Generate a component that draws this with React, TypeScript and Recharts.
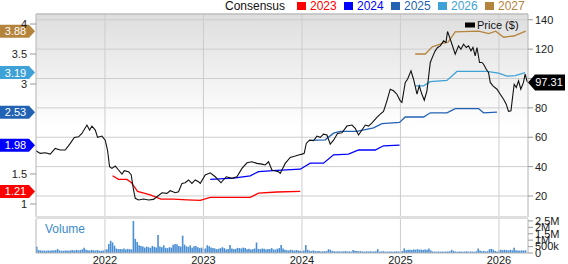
import React from 'react';
import { ComposedChart, Line, Bar, XAxis, YAxis, CartesianGrid, ReferenceLine, ReferenceDot } from 'recharts';

const T0 = 2021.3;
const T1 = 2026.295;
const yearTicks = [2022, 2023, 2024, 2025, 2026];
const epsTicks = [1, 1.5, 3, 3.5, 4];
const priceTicks = [20, 40, 60, 80, 100, 120, 140];
const volTicks = [0, 500, 1000, 1500, 2000, 2500];
const volTickLabels: Record<number, string> = { 0: '0', 500: '500k', 1000: '1M', 1500: '1.5M', 2000: '2M', 2500: '2.5M' };

const pricePoints: [number, number][] = [
  [2021.300, 50.8], [2021.343, 49.0], [2021.394, 49.4], [2021.445, 48.5], [2021.495, 52.4], [2021.546, 51.3], [2021.597, 51.3],
  [2021.648, 55.8], [2021.689, 59.9], [2021.732, 60.3], [2021.766, 62.6], [2021.817, 68.3], [2021.844, 64.9], [2021.868, 67.6],
  [2021.902, 64.9], [2021.925, 59.9], [2021.970, 60.8], [2022.003, 58.0], [2022.026, 51.3], [2022.047, 39.9], [2022.071, 38.8],
  [2022.105, 40.4], [2022.138, 37.7], [2022.173, 34.9], [2022.196, 37.2], [2022.240, 36.5], [2022.267, 34.3], [2022.290, 24.1],
  [2022.308, 18.4], [2022.341, 17.3], [2022.392, 17.9], [2022.443, 17.3], [2022.493, 17.7], [2022.528, 19.5], [2022.579, 22.2],
  [2022.629, 21.8], [2022.663, 23.6], [2022.714, 22.2], [2022.747, 22.9], [2022.782, 28.6], [2022.815, 29.0], [2022.849, 30.9],
  [2022.883, 28.6], [2022.917, 30.9], [2022.950, 29.7], [2022.968, 28.6], [2023.018, 34.3], [2023.069, 35.8], [2023.120, 33.1],
  [2023.178, 29.0], [2023.231, 33.1], [2023.289, 32.0], [2023.340, 33.1], [2023.391, 38.8], [2023.442, 42.6], [2023.492, 43.3],
  [2023.543, 42.2], [2023.594, 41.7], [2023.627, 41.1], [2023.661, 43.3], [2023.695, 37.7], [2023.762, 36.5], [2023.780, 35.4],
  [2023.830, 42.2], [2023.881, 46.3], [2023.932, 47.2], [2023.965, 47.9], [2024.000, 48.5], [2024.023, 49.0], [2024.044, 55.8],
  [2024.077, 58.0], [2024.118, 57.6], [2024.152, 60.8], [2024.186, 59.9], [2024.219, 62.1], [2024.254, 61.5], [2024.287, 55.3],
  [2024.321, 58.0], [2024.361, 62.6], [2024.406, 63.0], [2024.457, 67.6], [2024.508, 68.3], [2024.541, 66.0], [2024.575, 61.5],
  [2024.609, 64.9], [2024.643, 68.3], [2024.676, 67.6], [2024.711, 69.8], [2024.761, 73.5], [2024.795, 75.7], [2024.828, 77.6],
  [2024.863, 84.8], [2024.896, 92.7], [2024.930, 91.6], [2024.964, 89.3], [2024.998, 84.8], [2025.015, 83.7], [2025.049, 97.3],
  [2025.072, 99.5], [2025.107, 105.2], [2025.133, 99.5], [2025.168, 89.3], [2025.191, 95.0], [2025.218, 89.3], [2025.242, 85.2],
  [2025.269, 91.6], [2025.303, 110.9], [2025.330, 115.4], [2025.353, 118.8], [2025.377, 121.1], [2025.404, 122.2], [2025.438, 125.6],
  [2025.462, 124.5], [2025.478, 132.0], [2025.499, 128.2], [2025.523, 123.3], [2025.556, 116.5], [2025.590, 122.2], [2025.614, 119.9],
  [2025.641, 123.3], [2025.668, 121.1], [2025.691, 122.2], [2025.716, 118.8], [2025.736, 121.1], [2025.759, 115.4], [2025.777, 121.1],
  [2025.803, 110.9], [2025.827, 110.9], [2025.844, 109.7], [2025.871, 106.3], [2025.894, 104.1], [2025.912, 97.3], [2025.939, 95.0],
  [2025.980, 92.7], [2026.013, 89.3], [2026.047, 85.9], [2026.074, 82.5], [2026.097, 77.6], [2026.122, 78.0], [2026.142, 89.3],
  [2026.155, 96.1], [2026.176, 93.9], [2026.199, 98.4], [2026.222, 92.7], [2026.249, 97.3], [2026.266, 102.9], [2026.284, 98.4],
  [2026.294, 97.31],
];
const lastPrice = 97.31;

const eps2023: [number, number][] = [
  [2022.077, 1.47], [2022.138, 1.41], [2022.223, 1.41], [2022.267, 1.36], [2022.331, 1.21], [2022.460, 1.15], [2022.569, 1.08],
  [2022.696, 1.08], [2022.832, 1.07], [2022.968, 1.06], [2023.069, 1.11], [2023.272, 1.11], [2023.475, 1.11], [2023.559, 1.18],
  [2023.746, 1.20], [2023.983, 1.21],
];
const eps2024: [number, number][] = [
  [2023.069, 1.41], [2023.306, 1.43], [2023.475, 1.47], [2023.559, 1.54], [2023.746, 1.56], [2023.983, 1.58], [2024.084, 1.68],
  [2024.219, 1.68], [2024.321, 1.82], [2024.473, 1.83], [2024.575, 1.90], [2024.744, 1.90], [2024.828, 1.97], [2024.991, 1.98],
];
const eps2025: [number, number][] = [
  [2024.084, 2.06], [2024.236, 2.07], [2024.321, 2.18], [2024.389, 2.21], [2024.558, 2.21], [2024.727, 2.27], [2024.812, 2.34],
  [2024.991, 2.36], [2025.049, 2.45], [2025.235, 2.45], [2025.303, 2.52], [2025.472, 2.52], [2025.556, 2.59], [2025.793, 2.59],
  [2025.844, 2.52], [2025.980, 2.53],
];
const eps2026: [number, number][] = [
  [2025.150, 2.97], [2025.235, 2.97], [2025.303, 3.04], [2025.472, 3.06], [2025.574, 3.21], [2025.878, 3.21], [2025.996, 3.18],
  [2026.081, 3.13], [2026.166, 3.14], [2026.266, 3.19],
];
const eps2027: [number, number][] = [
  [2025.150, 3.50], [2025.252, 3.50], [2025.323, 3.62], [2025.435, 3.68], [2025.485, 3.70], [2025.556, 3.87], [2025.794, 3.88],
  [2025.896, 3.84], [2025.967, 3.88], [2026.048, 3.78], [2026.150, 3.80], [2026.272, 3.88],
];

const consensusYears = ['2023', '2024', '2025', '2026', '2027'];
const consensusLatest = [1.21, 1.98, 2.53, 3.19, 3.88];
const consensusColors: Record<string, string> = {
  '2023': '#ff0000', '2024': '#0000ff', '2025': '#2262b4', '2026': '#3ea2d8', '2027': '#b5843c',
};
const consensusSeries: Record<string, [number, number][]> = {
  '2023': eps2023, '2024': eps2024, '2025': eps2025, '2026': eps2026, '2027': eps2027,
};

// weekly volume, thousands of shares
const volStart = 2021.3;
const vol2021 = [480, 220, 200, 180, 190, 170, 200, 180, 210, 190, 230, 300, 200, 180, 170, 190, 200, 180, 210, 220, 190, 250, 200, 230, 280, 400, 260, 220, 200, 240, 210, 190, 230, 180, 170, 200];
const vol2022 = [250, 300, 700, 950, 830, 570, 350, 300, 320, 300, 350, 280, 320, 300, 280, 2500, 1100, 850, 600, 550, 500, 420, 500, 450, 400, 550, 480, 420, 1400, 500, 450, 600, 400, 380, 450, 420, 650, 700, 680, 550, 500, 1350, 650, 520, 480, 600, 400, 520, 550, 450, 380, 420];
const vol2023 = [320, 350, 600, 520, 420, 380, 350, 300, 330, 380, 450, 380, 280, 320, 620, 350, 300, 320, 400, 380, 350, 420, 380, 300, 330, 280, 300, 350, 820, 320, 300, 350, 330, 280, 320, 300, 380, 280, 260, 330, 380, 620, 350, 250, 220, 200, 250, 220, 180, 230, 200, 180];
const vol2024 = [150, 200, 620, 250, 180, 150, 200, 150, 130, 150, 120, 140, 130, 150, 300, 250, 150, 130, 120, 140, 110, 120, 130, 150, 120, 130, 110, 230, 180, 150, 130, 140, 120, 110, 130, 120, 140, 120, 110, 130, 300, 110, 120, 140, 110, 100, 120, 110, 100, 120, 130, 110];
const vol2025 = [130, 150, 360, 220, 250, 260, 240, 280, 260, 300, 250, 270, 240, 280, 260, 360, 200, 120, 110, 100, 120, 100, 110, 100, 120, 110, 130, 250, 160, 120, 100, 110, 120, 100, 110, 130, 100, 120, 110, 100, 130, 360, 200, 130, 150, 120, 140, 300, 320, 260, 150, 120];
const vol2026 = [200, 250, 220, 250, 230, 200, 250, 220, 400, 220, 200, 180, 200, 190, 210];

const priceData = pricePoints.map(([t, v]) => ({ t, v }));
const volumes = [...vol2021, ...vol2022, ...vol2023, ...vol2024, ...vol2025, ...vol2026];
const volumeData = volumes.map((v, i) => ({ t: volStart + (i + 0.5) / 52, v }));

const FONT = '"Liberation Sans", Arial, sans-serif';
const GRID = '#cdcdcd';
const AXIS = '#b4b4b4';

const LeftBadge = (props: any) => {
  const { cx, cy, fill, label } = props;
  if (cx == null || cy == null) return null;
  const r = cx - 7;
  return (
    <g>
      <polygon points={`0,${cy - 6.5} ${r},${cy - 6.5} ${cx - 1},${cy} ${r},${cy + 6.5} 0,${cy + 6.5}`} fill={fill} />
      <text x={r / 2 + 1} y={cy + 4} fill="#fff" fontSize={11} textAnchor="middle" fontFamily={FONT}>{label}</text>
    </g>
  );
};

const PriceBadge = (props: any) => {
  const { cx, cy, label } = props;
  if (cx == null || cy == null) return null;
  return (
    <g>
      <polygon points={`${cx},${cy} ${cx + 7},${cy - 8} ${cx + 37},${cy - 8} ${cx + 37},${cy + 8} ${cx + 7},${cy + 8}`} fill="#000" />
      <text x={cx + 21} y={cy + 4} fill="#fff" fontSize={11} textAnchor="middle" fontFamily={FONT}>{label}</text>
    </g>
  );
};

export default function App() {
  return (
    <div style={{ position: 'absolute', left: 0, top: 0, width: 568, height: 264, background: '#fff', fontFamily: FONT, overflow: 'hidden' }}>
      <svg width={0} height={0} style={{ position: 'absolute' }}>
        <defs>
          <linearGradient id="bgGrad" x1="0" y1="0" x2="0" y2="1">
            <stop offset="0" stopColor="#dedede" />
            <stop offset="0.55" stopColor="#ffffff" />
            <stop offset="1" stopColor="#ffffff" />
          </linearGradient>
        </defs>
      </svg>

      <div style={{ position: 'absolute', left: 0, top: 0 }}>
        <ComposedChart width={568} height={218} margin={{ top: 14, right: 0, bottom: 1, left: 0 }}>
          <CartesianGrid yAxisId="price" vertical={false} stroke={GRID} fill="url(#bgGrad)" fillOpacity={1} />
          <XAxis dataKey="t" type="number" domain={[T0, T1]} allowDataOverflow hide ticks={yearTicks} />
          <YAxis yAxisId="eps" orientation="left" width={36} type="number" domain={[0.783, 4.167]} allowDataOverflow
            ticks={epsTicks} interval={0} tickSize={6} tickMargin={3}
            tick={{ fontSize: 11, fill: '#222' }} axisLine={{ stroke: AXIS }} tickLine={{ stroke: '#999' }} />
          <YAxis yAxisId="price" orientation="right" width={40} type="number" domain={[5.7, 143.9]} allowDataOverflow
            ticks={priceTicks} interval={0} tickSize={5} tickMargin={2}
            tickFormatter={(v: number) => (v === 100 ? '' : String(v))}
            tick={{ fontSize: 11, fill: '#222' }} axisLine={{ stroke: AXIS }} tickLine={{ stroke: '#999' }} />
          {yearTicks.map((y) => (
            <ReferenceLine key={y} yAxisId="price" x={y} stroke={GRID} />
          ))}
          <ReferenceLine yAxisId="price" y={143.9} stroke={AXIS} />
          {consensusYears.map((yr) => (
            <Line key={yr} yAxisId="eps" data={consensusSeries[yr].map(([t, v]) => ({ t, v }))} dataKey="v"
              stroke={consensusColors[yr]} strokeWidth={1.3} dot={false} activeDot={false} isAnimationActive={false} type="linear" />
          ))}
          <Line yAxisId="price" data={priceData} dataKey="v" stroke="#111" strokeWidth={1.1} dot={false}
            activeDot={false} isAnimationActive={false} type="linear" />
          {consensusYears.map((yr, i) => (
            <ReferenceDot key={'b' + yr} yAxisId="eps" x={T0} y={consensusLatest[i]} ifOverflow="visible"
              shape={(p: any) => <LeftBadge {...p} fill={consensusColors[yr]} label={consensusLatest[i].toFixed(2)} />} />
          ))}
          <ReferenceDot yAxisId="price" x={T1} y={lastPrice} ifOverflow="visible"
            shape={(p: any) => <PriceBadge {...p} label={lastPrice.toFixed(2)} />} />
        </ComposedChart>
      </div>

      <div style={{ position: 'absolute', left: 0, top: 216 }}>
        <ComposedChart width={568} height={48} data={volumeData} margin={{ top: 3, right: 0, bottom: 0, left: 0 }}>
          <XAxis dataKey="t" type="number" domain={[T0, T1]} allowDataOverflow ticks={yearTicks} interval={0}
            height={11} tickLine={false} tickSize={0} tickMargin={3} axisLine={{ stroke: AXIS }}
            tick={{ fontSize: 11, fill: '#222' }} tickFormatter={(v: number) => String(Math.round(v))} />
          <YAxis yAxisId="l" orientation="left" width={36} tick={false} tickLine={false} axisLine={{ stroke: AXIS }} />
          <YAxis yAxisId="vol" orientation="right" width={40} type="number" domain={[0, 2650]} allowDataOverflow
            ticks={volTicks} interval={0} tickSize={5} tickMargin={2}
            tick={{ fontSize: 11, fill: '#222' }} axisLine={{ stroke: AXIS }} tickLine={{ stroke: '#999' }}
            tickFormatter={(v: number) => volTickLabels[v] ?? ''} />
          {yearTicks.map((y) => (
            <ReferenceLine key={y} yAxisId="vol" x={y} stroke={GRID} />
          ))}
          <Bar yAxisId="vol" dataKey="v" fill="#4a8fd3" barSize={1.6} isAnimationActive={false} />
        </ComposedChart>
      </div>

      <div style={{ position: 'absolute', left: 36, top: 216, width: 492, height: 3, background: '#dedede' }} />

      <svg width={568} height={264} style={{ position: 'absolute', left: 0, top: 0, pointerEvents: 'none' }}>
        <text x={225} y={10} fontSize={12} fill="#111" fontFamily={FONT}>Consensus</text>
        {consensusYears.map((yr, i) => {
          const x0 = 297 + i * 47;
          return (
            <g key={yr}>
              <rect x={x0} y={2} width={9} height={8} fill={consensusColors[yr]} />
              <text x={x0 + 13} y={10} fontSize={12} fill={consensusColors[yr]} fontFamily={FONT}>{yr}</text>
            </g>
          );
        })}
        <rect x={465} y={22.5} width={10} height={5} fill="#000" />
        <text x={477} y={29} fontSize={11} fill="#111" fontFamily={FONT}>Price ($)</text>
        <text x={45} y={233} fontSize={12} fill="#3a8ccc" fontFamily={FONT}>Volume</text>
      </svg>
    </div>
  );
}
